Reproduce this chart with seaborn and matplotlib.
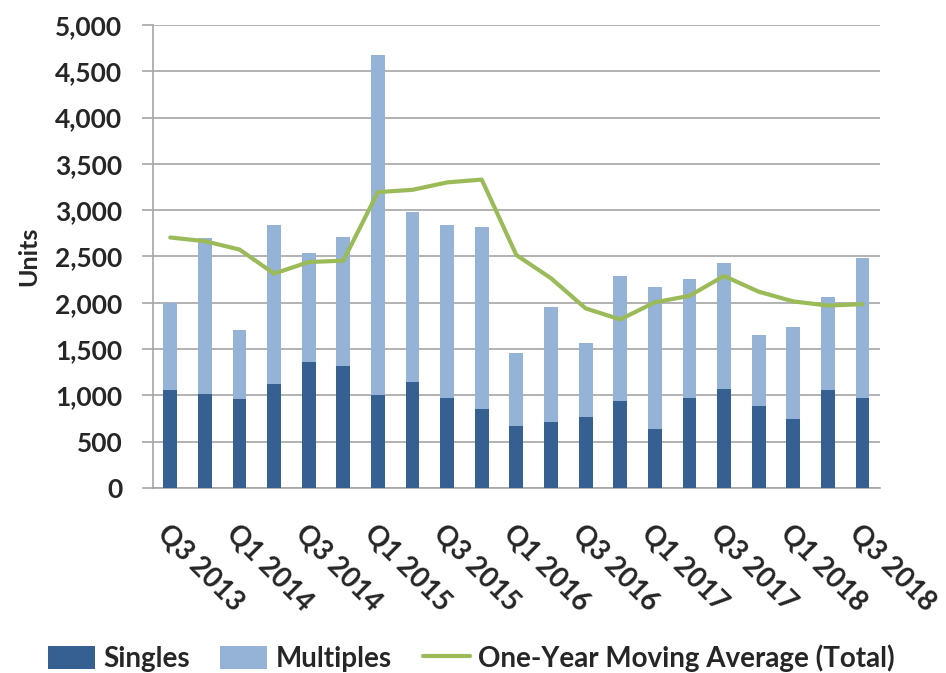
import numpy as np
import matplotlib
matplotlib.use("Agg")
import matplotlib.pyplot as plt
import seaborn as sns
from matplotlib.ticker import FuncFormatter, FixedLocator

quarters = ["Q3 2013", "Q4 2013", "Q1 2014", "Q2 2014", "Q3 2014", "Q4 2014",
            "Q1 2015", "Q2 2015", "Q3 2015", "Q4 2015", "Q1 2016", "Q2 2016",
            "Q3 2016", "Q4 2016", "Q1 2017", "Q2 2017", "Q3 2017", "Q4 2017",
            "Q1 2018", "Q2 2018", "Q3 2018"]
singles = [1060, 1015, 960, 1125, 1365, 1320, 1000, 1140, 975, 855, 670,
           710, 765, 935, 640, 975, 1070, 890, 740, 1060, 975]
multiples = [940, 1685, 745, 1715, 1175, 1385, 3675, 1840, 1865, 1960, 785,
             1245, 800, 1350, 1535, 1285, 1360, 760, 995, 1005, 1505]
moving_avg = [2705, 2665, 2575, 2315, 2440, 2455, 3195, 3220, 3300, 3330, 2515,
              2265, 1940, 1820, 2005, 2075, 2290, 2120, 2015, 1970, 1985]

totals = [s + m for s, m in zip(singles, multiples)]

sns.set_style("white")
plt.rcParams["font.family"] = ["Lato", "DejaVu Sans"]
plt.rcParams["font.weight"] = "bold"

dark = "#376092"
light = "#95b3d7"
green = "#9bbb59"
grey = "#a6a6a6"

fig = plt.figure(figsize=(9.46, 6.73), dpi=100)
ax = fig.add_axes([0.1617, 0.2749, 0.930 - 0.1617, 0.9629 - 0.2749])

sns.barplot(x=quarters, y=totals, color=light, width=0.4, saturation=1,
            linewidth=0, label="Multiples", ax=ax, zorder=2)
sns.barplot(x=quarters, y=singles, color=dark, width=0.4, saturation=1,
            linewidth=0, label="Singles", ax=ax, zorder=3)
sns.lineplot(x=np.arange(len(quarters)), y=moving_avg, color=green, lw=3.0,
             label="One-Year Moving Average (Total)", ax=ax, zorder=4)
if ax.get_legend() is not None:
    ax.get_legend().remove()

ax.set_xlim(-0.5, len(quarters) - 0.5)
ax.set_ylim(0, 5000)
ax.yaxis.set_major_locator(FixedLocator(np.arange(0, 5001, 500)))
ax.yaxis.set_major_formatter(FuncFormatter(lambda v, p: f"{int(v):,}"))
ax.yaxis.grid(True, color=grey, lw=1.2, zorder=0)
ax.set_axisbelow(True)

# category boundaries as ticks, labels on every other category
ax.xaxis.set_major_locator(FixedLocator(np.arange(-0.5, len(quarters), 1)))
ax.xaxis.set_major_formatter(FuncFormatter(lambda v, p: ""))
ax.xaxis.set_minor_locator(FixedLocator(np.arange(0, len(quarters), 2)))
ax.set_xticklabels([quarters[i] for i in range(0, len(quarters), 2)], minor=True)
ax.tick_params(axis="x", which="major", length=8, width=1.2, color=grey, direction="out")
ax.tick_params(axis="x", which="minor", length=0, pad=23, labelsize=20)
for t in ax.get_xticklabels(minor=True):
    t.set_rotation(-45)
    t.set_ha("left")
    t.set_va("top")
    t.set_rotation_mode("anchor")
    t.set_fontweight("bold")

ax.tick_params(axis="y", length=8, width=1.2, color=grey, direction="out",
               pad=14, labelsize=19, left=True)
for t in ax.get_yticklabels():
    t.set_fontweight("bold")

for side in ["top", "right"]:
    ax.spines[side].set_visible(False)
for side in ["left", "bottom"]:
    ax.spines[side].set_color(grey)
    ax.spines[side].set_linewidth(1.2)

ax.set_xlabel("")
ax.set_ylabel("Units", fontsize=18, fontweight="bold")
ax.yaxis.set_label_coords(-0.155, 0.5)

h, l = ax.get_legend_handles_labels()
order = [l.index("Singles"), l.index("Multiples"), l.index("One-Year Moving Average (Total)")]
fig.legend([h[i] for i in order], [l[i] for i in order], loc="center",
           bbox_to_anchor=(0.498, 0.022), ncol=3, frameon=False,
           prop={"size": 20, "weight": "bold"}, handlelength=1.7,
           handleheight=0.9, handletextpad=0.3, columnspacing=1.1)

fig.savefig("out.png", dpi=100)
